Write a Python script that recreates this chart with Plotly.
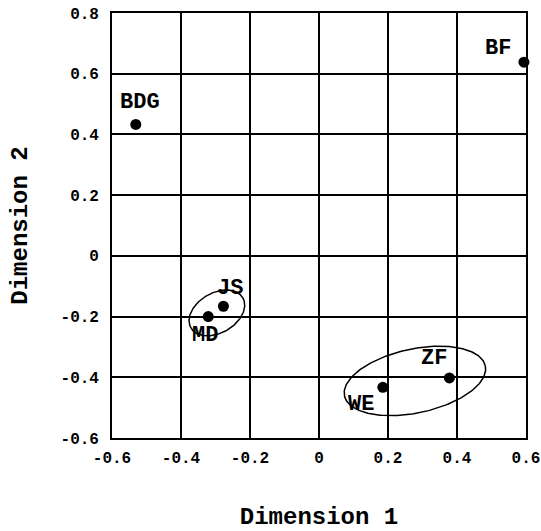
import numpy as np
import plotly.graph_objects as go

labels = ["BF", "BDG", "JS", "MD", "ZF", "WE"]
dim1 = [0.594, -0.531, -0.277, -0.321, 0.378, 0.185]
dim2 = [0.638, 0.433, -0.166, -0.200, -0.402, -0.433]
label_dx = [-26, 4, 7, -3, -15, -22]
label_dy = [14, 22, 18, -19, 19, -17]

x_ticks = [-0.6, -0.4, -0.2, 0, 0.2, 0.4, 0.6]
x_ticktext = ["-0.6", "-0.4", "-0.2", "0", "0.2", "0.4", "0.6"]
y_ticks = [-0.6, -0.4, -0.2, 0, 0.2, 0.4, 0.6, 0.8]
y_ticktext = ["-0.6", "-0.4", "-0.2", "0", "0.2", "0.4", "0.6", "0.8"]

# ellipses: center (data), semi-axes (screen px along rotated axes), angle (deg, screen)
ellipses = [
    dict(cx=-0.296, cy=-0.188, a=30, b=20, ang=30),
    dict(cx=0.278, cy=-0.412, a=72, b=32, ang=12),
]
PX_X, PX_Y = 345.0, 303.5

FONT = "Liberation Mono, Courier New, monospace"

fig = go.Figure()
for e in ellipses:
    t = np.linspace(0, 2 * np.pi, 240)
    th = np.radians(e["ang"])
    px = e["a"] * np.cos(t) * np.cos(th) - e["b"] * np.sin(t) * np.sin(th)
    py = e["a"] * np.cos(t) * np.sin(th) + e["b"] * np.sin(t) * np.cos(th)
    fig.add_trace(go.Scatter(x=e["cx"] + px / PX_X, y=e["cy"] + py / PX_Y, mode="lines",
                             line=dict(color="black", width=1.5), hoverinfo="skip", showlegend=False))

fig.add_trace(go.Scatter(x=dim1, y=dim2, mode="markers", marker=dict(color="black", size=11),
                         cliponaxis=False, showlegend=False))

for lab, x, y, dx, dy in zip(labels, dim1, dim2, label_dx, label_dy):
    fig.add_annotation(x=x, y=y, text=f"<b>{lab}</b>", showarrow=False, xshift=dx, yshift=dy,
                       font=dict(family=FONT, size=22, color="black"))

axis_common = dict(showgrid=True, gridcolor="black", gridwidth=1.7, zeroline=False,
                   showline=True, linecolor="black", linewidth=1.7, mirror=True,
                   ticks="", automargin=False, tickfont=dict(family=FONT, size=16, color="black"))

fig.update_xaxes(range=[-0.6, 0.6], tickvals=x_ticks, ticktext=[f"<b>{t}</b>" for t in x_ticktext],
                 ticklabelstandoff=4,
                 title=dict(text="<b>Dimension 1</b>", font=dict(family=FONT, size=24, color="black"), standoff=40),
                 **axis_common)
fig.update_yaxes(range=[-0.6, 0.8], tickvals=y_ticks, ticktext=[f"<b>{t}</b>" for t in y_ticktext],
                 ticklabelstandoff=8,
                 title=dict(text="<b>Dimension 2</b>", font=dict(family=FONT, size=24, color="black"), standoff=26),
                 **axis_common)

fig.update_layout(width=541, height=531, margin=dict(l=112, r=15, t=13, b=93),
                  plot_bgcolor="white", paper_bgcolor="white", showlegend=False)

fig.write_html("out.html", config={"displayModeBar": False},
               post_script="document.body.style.margin='0';document.body.style.overflow='hidden';")
